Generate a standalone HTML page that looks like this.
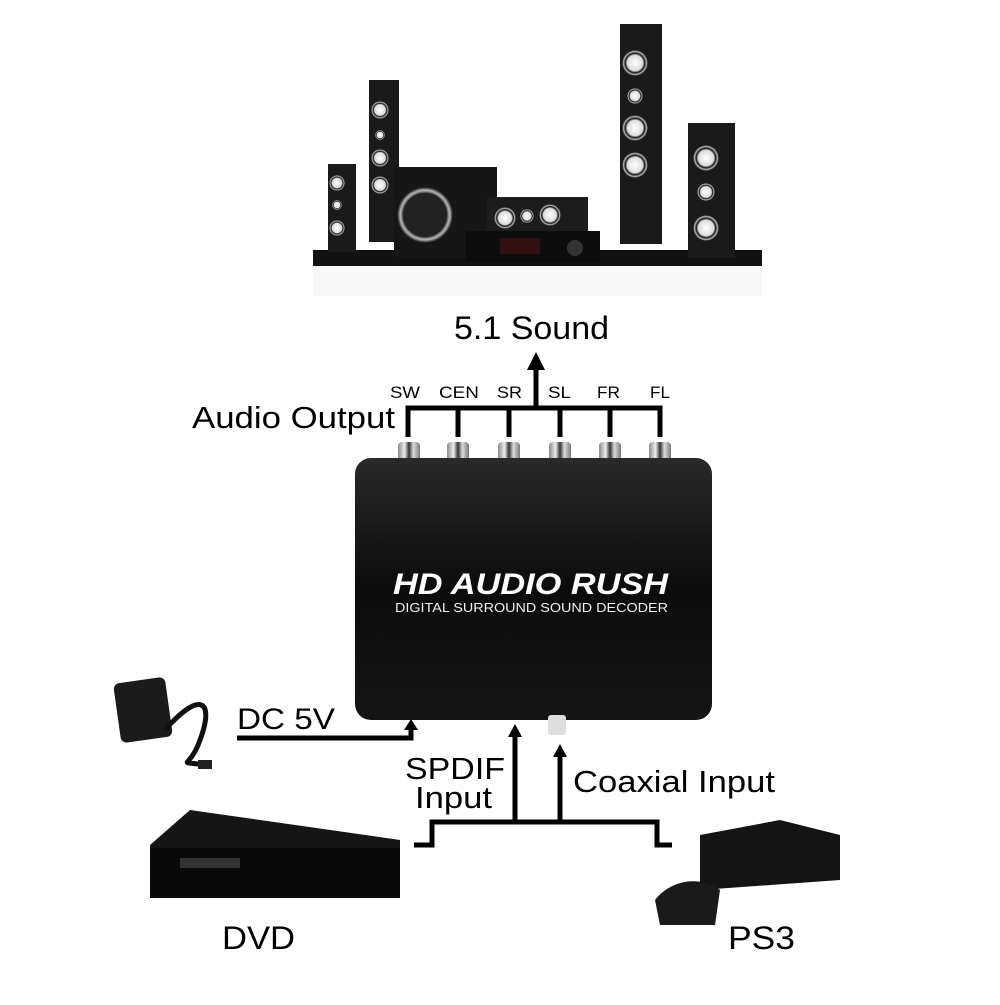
<!DOCTYPE html>
<html><head><style>
body{margin:0;background:#fff;width:1000px;height:1000px;overflow:hidden;font-family:"Liberation Sans",sans-serif}
</style></head><body>
<svg width="1000" height="1000" viewBox="0 0 1000 1000" xmlns="http://www.w3.org/2000/svg">
<defs>
<linearGradient id="bx" x1="0" y1="0" x2="0" y2="1"><stop offset="0" stop-color="#2a2a2a"/><stop offset="0.5" stop-color="#0c0c0c"/><stop offset="1" stop-color="#151515"/></linearGradient>
<linearGradient id="jk" x1="0" y1="0" x2="1" y2="0"><stop offset="0" stop-color="#888"/><stop offset="0.3" stop-color="#eee"/><stop offset="0.5" stop-color="#333"/><stop offset="0.7" stop-color="#ddd"/><stop offset="1" stop-color="#777"/></linearGradient>
<radialGradient id="wf"><stop offset="0" stop-color="#fff"/><stop offset="0.6" stop-color="#ddd"/><stop offset="0.75" stop-color="#111"/><stop offset="0.88" stop-color="#bbb"/><stop offset="1" stop-color="#111"/></radialGradient>
</defs>
<rect x="313" y="250" width="449" height="16" fill="#111"/>
<rect x="313" y="266" width="449" height="30" fill="#f7f7f7"/>
<rect x="328" y="164" width="28" height="88" fill="#1a1a1a"/>
<circle cx="337" cy="183" r="8" fill="url(#wf)"/><circle cx="337" cy="205" r="5" fill="url(#wf)"/><circle cx="337" cy="228" r="8" fill="url(#wf)"/>
<rect x="369" y="80" width="30" height="162" fill="#1a1a1a"/>
<circle cx="380" cy="110" r="9" fill="url(#wf)"/><circle cx="380" cy="135" r="5" fill="url(#wf)"/><circle cx="380" cy="158" r="9" fill="url(#wf)"/><circle cx="380" cy="185" r="9" fill="url(#wf)"/>
<rect x="394" y="167" width="103" height="90" fill="#161616"/>
<circle cx="425" cy="215" r="28" fill="url(#wf)"/><circle cx="425" cy="215" r="22" fill="#222"/>
<rect x="487" y="197" width="101" height="38" fill="#1c1c1c"/>
<circle cx="505" cy="218" r="11" fill="url(#wf)"/><circle cx="527" cy="216" r="7" fill="url(#wf)"/><circle cx="550" cy="215" r="11" fill="url(#wf)"/>
<rect x="466" y="231" width="134" height="31" fill="#0d0d0d"/>
<rect x="500" y="238" width="40" height="16" fill="#311"/>
<circle cx="575" cy="248" r="8" fill="#333"/>
<rect x="620" y="24" width="42" height="220" fill="#1a1a1a"/>
<circle cx="635" cy="63" r="13" fill="url(#wf)"/><circle cx="635" cy="96" r="8" fill="url(#wf)"/><circle cx="635" cy="128" r="13" fill="url(#wf)"/><circle cx="635" cy="165" r="13" fill="url(#wf)"/>
<rect x="688" y="123" width="47" height="135" fill="#1a1a1a"/>
<circle cx="706" cy="158" r="13" fill="url(#wf)"/><circle cx="706" cy="192" r="9" fill="url(#wf)"/><circle cx="706" cy="228" r="13" fill="url(#wf)"/>
<text x="454" y="339" font-size="32" textLength="155" lengthAdjust="spacingAndGlyphs">5.1 Sound</text>
<g font-size="17"><text x="390" y="398" textLength="30" lengthAdjust="spacingAndGlyphs">SW</text><text x="439" y="398" textLength="40" lengthAdjust="spacingAndGlyphs">CEN</text><text x="497" y="398" textLength="25" lengthAdjust="spacingAndGlyphs">SR</text><text x="548" y="398" textLength="23" lengthAdjust="spacingAndGlyphs">SL</text><text x="597" y="398" textLength="23" lengthAdjust="spacingAndGlyphs">FR</text><text x="650" y="398" textLength="20" lengthAdjust="spacingAndGlyphs">FL</text></g>
<text x="192" y="428" font-size="31" textLength="203" lengthAdjust="spacingAndGlyphs">Audio Output</text>
<g stroke="#000" stroke-width="5" fill="none">
<path d="M408 437V408H660V437M458 408V437M509 408V437M560 408V437M610 408V437"/>
<path d="M536 408V368"/>
</g>
<polygon points="527,370 545,370 536,352" fill="#000"/>
<g fill="url(#jk)">
<rect x="398" y="442" width="22" height="26" rx="4"/><rect x="447" y="442" width="22" height="26" rx="4"/><rect x="498" y="442" width="22" height="26" rx="4"/><rect x="549" y="442" width="22" height="26" rx="4"/><rect x="599" y="442" width="22" height="26" rx="4"/><rect x="649" y="442" width="22" height="26" rx="4"/>
</g>
<rect x="355" y="458" width="357" height="262" rx="16" fill="url(#bx)"/>
<rect x="548" y="715" width="18" height="20" rx="3" fill="#ddd"/>
<text x="393" y="594" font-size="30" font-weight="bold" fill="#fff" font-style="italic" textLength="275" lengthAdjust="spacingAndGlyphs">HD AUDIO RUSH</text>
<text x="395" y="612" font-size="13" fill="#eee" textLength="273" lengthAdjust="spacingAndGlyphs">DIGITAL SURROUND SOUND DECODER</text>
<g stroke="#000" stroke-width="5" fill="none">
<path d="M237 738H411V728"/>
<path d="M515 822V735"/>
<path d="M560 822V755"/>
<path d="M414 845H432V822H657V845H672"/>
</g>
<polygon points="404,730 418,730 411,719" fill="#000"/>
<polygon points="508,737 522,737 515,724" fill="#000"/>
<polygon points="553,757 567,757 560,744" fill="#000"/>
<text x="237" y="729" font-size="30" textLength="98" lengthAdjust="spacingAndGlyphs">DC 5V</text>
<text x="405" y="779" font-size="31" textLength="100" lengthAdjust="spacingAndGlyphs">SPDIF</text>
<text x="415" y="808" font-size="31" textLength="77" lengthAdjust="spacingAndGlyphs">Input</text>
<text x="573" y="792" font-size="31" textLength="202" lengthAdjust="spacingAndGlyphs">Coaxial Input</text>
<rect x="117" y="680" width="52" height="60" rx="6" fill="#1b1b1b" transform="rotate(-8 143 710)"/>
<path d="M165 730C200 690 215 700 200 740C190 770 175 760 205 765" stroke="#111" stroke-width="5" fill="none"/>
<rect x="198" y="760" width="14" height="9" fill="#222"/>
<polygon points="150,845 190,810 400,840 400,895 150,895" fill="#151515"/>
<rect x="150" y="848" width="250" height="50" fill="#0a0a0a"/>
<rect x="180" y="858" width="60" height="10" fill="#333"/>
<text x="222" y="949" font-size="32" textLength="73" lengthAdjust="spacingAndGlyphs">DVD</text>
<polygon points="700,835 780,820 840,835 840,880 700,890" fill="#141414"/>
<path d="M655 900C670 880 700 875 720 890L715 925 660 925Z" fill="#1a1a1a"/>
<text x="728" y="949" font-size="32" textLength="67" lengthAdjust="spacingAndGlyphs">PS3</text>
</svg>
</body></html>
